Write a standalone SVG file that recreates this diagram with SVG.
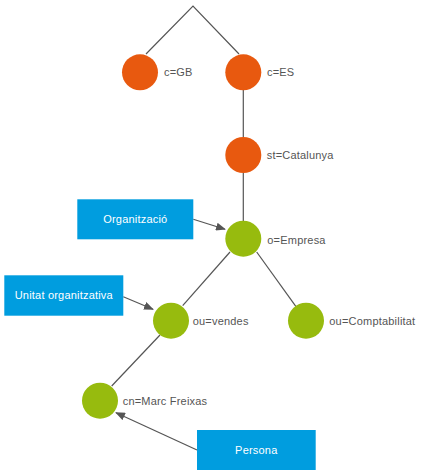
<svg xmlns="http://www.w3.org/2000/svg" width="423" height="476" viewBox="0 0 423 476">
<style>
.edge{stroke:#555;stroke-width:1.2;fill:none}
.arr{stroke:#555;stroke-width:1.2;fill:none;marker-end:url(#ah)}
.or{fill:#e8590f}
.gr{fill:#97bb0e}
.box{fill:#009ddf}
.lbl{font-family:"Liberation Sans",Arial,sans-serif;font-size:11px;fill:#555;letter-spacing:0.2px}
.bt{font-family:"Liberation Sans",Arial,sans-serif;font-size:11px;fill:#fff;text-anchor:middle;letter-spacing:0.2px}
</style>
<defs>
<marker id="ah" markerWidth="10" markerHeight="8" refX="9" refY="4" orient="auto" markerUnits="userSpaceOnUse">
<path d="M0,0 L10,4 L0,8 Z" fill="#555"/>
</marker>
</defs>
<rect width="423" height="476" fill="#fff"/>
<g id="connectors">
<polyline class="edge" points="146,54 193,6 239,54"/>
<line class="edge" x1="243.3" y1="90" x2="243.3" y2="137"/>
<line class="edge" x1="243.3" y1="173" x2="243.3" y2="221"/>
<line class="edge" x1="230" y1="252" x2="182.7" y2="305.7"/>
<line class="edge" x1="256.7" y1="252" x2="296" y2="306.7"/>
<line class="edge" x1="160" y1="335" x2="111.7" y2="386"/>
<line class="arr" x1="193.3" y1="219.3" x2="225" y2="229.3"/>
<line class="arr" x1="123.3" y1="296.7" x2="153" y2="309.3"/>
<line class="arr" x1="197" y1="450" x2="116" y2="412.7"/>
</g>
<g id="cGB"><circle class="or" cx="140" cy="72.3" r="18"/><text class="lbl" x="164" y="76">c=GB</text></g>
<g id="cES"><circle class="or" cx="243.3" cy="72.3" r="18"/><text class="lbl" x="267" y="76">c=ES</text></g>
<g id="stCat"><circle class="or" cx="243.3" cy="155" r="18"/><text class="lbl" x="266.7" y="159">st=Catalunya</text></g>
<g id="oEmp"><circle class="gr" cx="243.3" cy="238.7" r="18"/><text class="lbl" x="267.3" y="244">o=Empresa</text></g>
<g id="ouVen"><circle class="gr" cx="171" cy="320.7" r="18"/><text class="lbl" x="192.7" y="325">ou=vendes</text></g>
<g id="ouComp"><circle class="gr" cx="306" cy="320.7" r="18"/><text class="lbl" x="329.3" y="325">ou=Comptabilitat</text></g>
<g id="cnMarc"><circle class="gr" cx="100" cy="400.7" r="18"/><text class="lbl" x="122.7" y="405">cn=Marc Freixas</text></g>
<g id="bOrg"><rect class="box" x="77.3" y="199.3" width="116" height="40"/><text class="bt" x="135.3" y="222.5">Organització</text></g>
<g id="bUnit"><rect class="box" x="4.3" y="275.3" width="119" height="40.4"/><text class="bt" x="63.8" y="299">Unitat organitzativa</text></g>
<g id="bPers"><rect class="box" x="197" y="430" width="118.7" height="40"/><text class="bt" x="256.3" y="453.5">Persona</text></g>
</svg>
